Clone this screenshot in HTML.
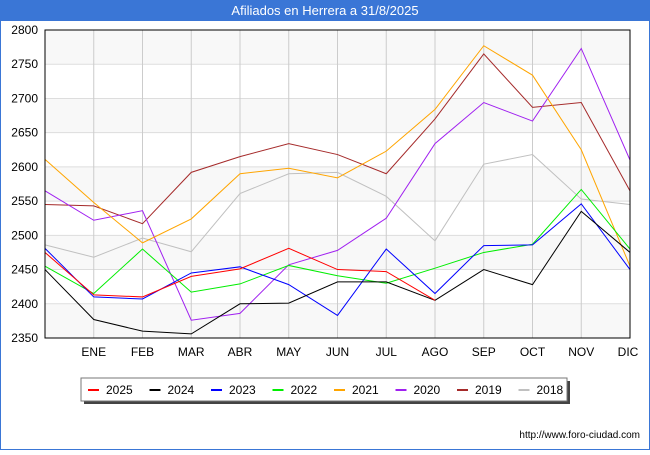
<!DOCTYPE html>
<html><head><meta charset="utf-8"><style>
body{margin:0;width:650px;height:450px;overflow:hidden;font-family:"Liberation Sans",sans-serif;}
</style></head><body>
<svg id="c" width="650" height="450" xmlns="http://www.w3.org/2000/svg">
<rect x="0" y="0" width="650" height="450" fill="#fff" stroke="#3a76d6" stroke-width="2"/>
<rect x="0" y="0" width="650" height="21" fill="#3a76d6"/>
<text x="325" y="15" text-anchor="middle" fill="#fff" font-size="13">Afiliados en Herrera a 31/8/2025</text>
<g id="grid"></g><g id="series"></g>
<rect x="45" y="30" width="585" height="308" fill="none" stroke="#000" stroke-width="1"/>
<g id="axes" font-size="12" fill="#000"></g>
<rect x="84" y="381" width="486" height="23" fill="#444"/>
<rect x="81" y="378" width="486" height="23" fill="#fff" stroke="#777"/>
<g id="legend" font-size="12"></g>
<text x="640" y="438" text-anchor="end" font-size="10">http://www.foro-ciudad.com</text>
</svg>
<script>
const months=["","ENE","FEB","MAR","ABR","MAY","JUN","JUL","AGO","SEP","OCT","NOV","DIC"];
const yTicks=[2350,2400,2450,2500,2550,2600,2650,2700,2750,2800];
const years=["2025","2024","2023","2022","2021","2020","2019","2018"];
const colors=["#ff0000","#000000","#0000ff","#00ee00","#ffa500","#a020f0","#a52a2a","#c0c0c0"];
const s2025=[2475,2413,2410,2440,2451,2481,2450,2447,2405];
const s2024=[2450,2377,2360,2356,2400,2401,2432,2432,2405,2450,2428,2535,2475];
const s2023=[2481,2410,2407,2445,2454,2428,2383,2480,2415,2485,2486,2546,2450];
const s2022=[2455,2415,2480,2417,2429,2456,2441,2430,2452,2475,2487,2567,2480];
const s2021=[2611,2548,2489,2524,2590,2598,2584,2623,2684,2777,2734,2625,2455];
const s2020=[2565,2522,2536,2376,2386,2457,2478,2525,2634,2694,2667,2773,2610];
const s2019=[2545,2543,2517,2592,2615,2634,2618,2590,2670,2765,2687,2694,2565];
const s2018=[2486,2468,2496,2476,2561,2590,2592,2557,2492,2604,2618,2553,2545];
const series=[s2025,s2024,s2023,s2022,s2021,s2020,s2019,s2018];
const NS="http://www.w3.org/2000/svg";
const X=i=>45+i*48.75, Y=v=>338-(v-2350)*308/450;
function mk(t,a,p){const e=document.createElementNS(NS,t);for(const k in a)e.setAttribute(k,a[k]);p.appendChild(e);return e;}
const g=document.getElementById('grid'),ax=document.getElementById('axes'),sg=document.getElementById('series'),lg=document.getElementById('legend');
for(let k=0;k<yTicks.length-1;k++){
 const r=mk('rect',{x:45,y:Y(yTicks[k+1]),width:585,height:Y(yTicks[k])-Y(yTicks[k+1]),fill:(k%2==0)?'#f8f8f8':'#ffffff'},g);
 
 
}
yTicks.forEach(v=>{
 const l=mk('line',{x1:45,x2:630,y1:Y(v),y2:Y(v),stroke:'#ddd'},g);
 
 
 const t=mk('text',{x:38,y:Y(v)+4,'text-anchor':'end'},ax);t.textContent=v;
 
 
});
months.forEach((m,i)=>{
 if(i==0)return;
 const l=mk('line',{x1:X(i),x2:X(i),y1:30,y2:338,stroke:'#ccc'},g);
 
 
 const t=mk('text',{x:X(i)-(i==12?2:0),y:356,'text-anchor':'middle'},ax);t.textContent=m;
 
 
});
for(let s=series.length-1;s>=0;s--){
 const p=mk('polyline',{points:series[s].map((v,i)=>X(i)+','+Y(v)).join(' '),fill:'none',stroke:colors[s],'stroke-width':1},sg);
 
 
}
years.forEach((y,i)=>{
 const x0=88+i*61.5;
 const l=mk('line',{x1:x0,x2:x0+11,y1:390,y2:390,stroke:colors[i],'stroke-width':2},lg);
 
 
 const t=mk('text',{x:x0+18,y:394},lg);t.textContent=y;
 
 
});
</script>
</body></html>
